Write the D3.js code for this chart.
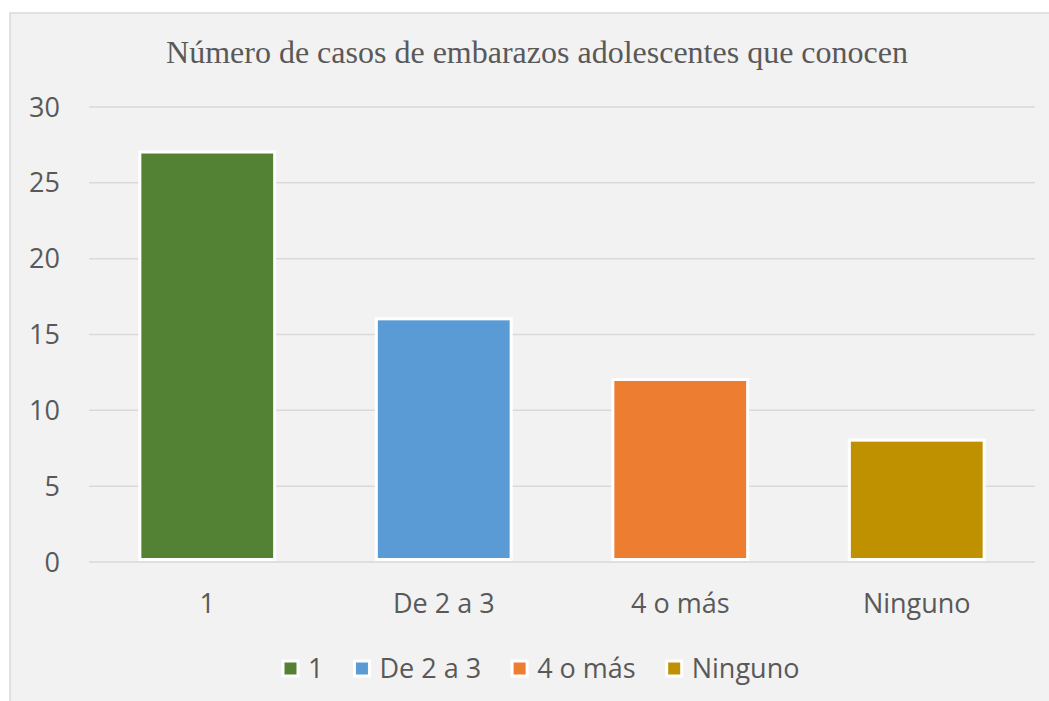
<!DOCTYPE html>
<html>
<head>
<meta charset="utf-8">
<script src="https://cdn.jsdelivr.net/npm/d3@7"></script>
<style>
  html, body { margin: 0; padding: 0; background: #ffffff; }
  svg { display: block; }
</style>
</head>
<body>
<svg id="chart" width="1049" height="701"></svg>
<script>
const title = "Número de casos de embarazos adolescentes que conocen";
const categories = ["1", "De 2 a 3", "4 o más", "Ninguno"];
const values = [27, 16, 12, 8];
const colors = ["#548235", "#5b9bd5", "#ed7d31", "#bf9000"];
const yTicks = [0, 5, 10, 15, 20, 25, 30];

const svg = d3.select("#chart");
const W = 1049, H = 701;
const plot = { left: 89, right: 1035, top: 106.5, bottom: 561.5 };
const font = "'Open Sans', 'Noto Sans', sans-serif";
const textColor = "#595959";
const gridColor = "#d9d9d9";

// chart area background with left/top border
svg.append("rect")
  .attr("x", 10).attr("y", 13)
  .attr("width", 1200).attr("height", 900)
  .attr("fill", "#f2f2f2")
  .attr("stroke", gridColor).attr("stroke-width", 1.5);

// title
svg.append("text")
  .attr("x", 537).attr("y", 63)
  .attr("text-anchor", "middle")
  .attr("font-family", "'Liberation Serif', 'Times New Roman', serif")
  .attr("font-size", 32)
  .attr("fill", textColor)
  .text(title);

const y = d3.scaleLinear().domain([0, 30]).range([plot.bottom, plot.top]);
const x = d3.scaleBand().domain(categories).range([plot.left, plot.right])
  .paddingInner(0.43).paddingOuter(0.215);

// gridlines
const yAxis = d3.axisLeft(y).tickValues(yTicks).tickSize(-(plot.right - plot.left)).tickPadding(29);
const gy = svg.append("g").attr("transform", `translate(${plot.left},0)`).call(yAxis);
gy.select(".domain").remove();
gy.selectAll(".tick line").attr("stroke", gridColor).attr("stroke-width", 1.5);
gy.selectAll(".tick text")
  .attr("font-family", font).attr("font-size", 27)
  .attr("fill", textColor).attr("dy", "0.357em");

// bars
svg.append("g").selectAll("rect")
  .data(values)
  .join("rect")
  .attr("x", (d, i) => x(categories[i]))
  .attr("y", d => y(d))
  .attr("width", x.bandwidth())
  .attr("height", d => y(0) - y(d) - 2)
  .attr("fill", (d, i) => colors[i])
  .attr("stroke", "#ffffff")
  .attr("stroke-width", 3);

// x axis labels
const xAxis = d3.axisBottom(x).tickSize(0).tickPadding(0);
const gx = svg.append("g").attr("transform", `translate(0,${plot.bottom})`).call(xAxis);
gx.select(".domain").remove();
gx.selectAll(".tick text")
  .attr("font-family", font).attr("font-size", 27)
  .attr("fill", textColor).attr("dy", 0).attr("y", 51.5);

// legend
const legend = svg.append("g").attr("transform", "translate(0,668.5)");
let lx = 283;
categories.forEach((c, i) => {
  const g = legend.append("g").attr("transform", `translate(${lx},0)`);
  g.append("rect")
    .attr("x", 0).attr("y", -7.5)
    .attr("width", 15).attr("height", 15)
    .attr("fill", colors[i])
    .attr("stroke", "#ffffff").attr("stroke-width", 3);
  const t = g.append("text")
    .attr("x", 25).attr("y", 9.6)
    .attr("font-family", font).attr("font-size", 27)
    .attr("fill", textColor)
    .text(c);
  const w = t.node().getComputedTextLength();
  lx += 25 + w + 31;
});
</script>
</body>
</html>
